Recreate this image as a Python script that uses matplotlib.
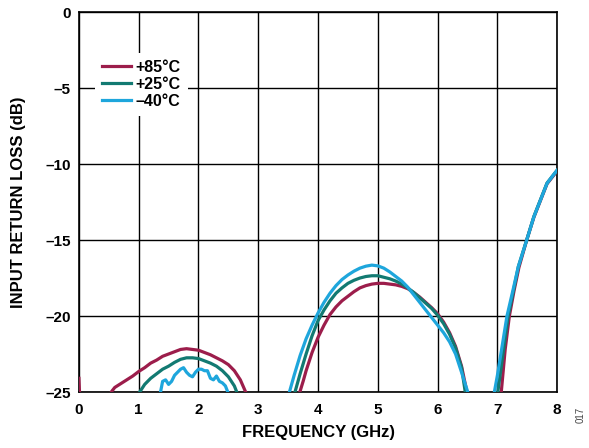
import numpy as np
import matplotlib.pyplot as plt

plt.rcParams['font.family'] = ['Liberation Sans', 'DejaVu Sans']
plt.rcParams['font.weight'] = 'bold'

nan = np.nan

# +85C
f_85 = [0.00, 0.02, nan, 0.50, 0.55, 0.6, 0.7, 0.8, 0.9, 1.0, 1.1, 1.2, 1.3, 1.4, 1.5, 1.6, 1.7, 1.8, 1.9,
        2.0, 2.1, 2.2, 2.3, 2.4, 2.5, 2.6, 2.7, 2.8, nan,
        3.68, 3.75, 3.8, 3.9, 4.0, 4.1, 4.2, 4.3, 4.4, 4.5, 4.6, 4.7, 4.8, 4.9, 5.0, 5.1, 5.2, 5.3, 5.4,
        5.5, 5.6, 5.7, 5.8, 5.9, 6.0, 6.1, 6.2, 6.3, 6.4, 6.5, nan,
        7.06, 7.13, 7.2, 7.28, 7.36, 7.49, 7.61, 7.72, 7.83, 7.92, 8.0]
rl_85 = [-24.1, -26, nan, -25.3, -24.95, -24.7, -24.45, -24.2, -23.95, -23.65, -23.4, -23.1, -22.9, -22.65,
         -22.5, -22.35, -22.2, -22.15, -22.2, -22.25, -22.4, -22.55, -22.75, -22.95, -23.2, -23.6, -24.2,
         -25.1, nan,
         -25.2, -24.3, -23.6, -22.4, -21.4, -20.6, -19.9, -19.4, -19.0, -18.7, -18.4, -18.15, -18.0, -17.9,
         -17.85, -17.85, -17.9, -17.95, -18.05, -18.2, -18.45, -18.75, -19.1, -19.45, -19.85, -20.4, -21.1,
         -22.0, -23.3, -25.2, nan,
         -25.2, -22.2, -20.0, -18.3, -16.8, -15.0, -13.5, -12.4, -11.3, -10.85, -10.45]

# +25C
f_25 = [1.0, 1.05, 1.1, 1.2, 1.3, 1.4, 1.5, 1.6, 1.7, 1.8, 1.9, 2.0, 2.1, 2.2, 2.3, 2.4, 2.5, 2.6, 2.65, nan,
        3.6, 3.7, 3.8, 3.9, 4.0, 4.1, 4.2, 4.3, 4.4, 4.5, 4.6, 4.7, 4.8, 4.9, 5.0, 5.1, 5.2, 5.3, 5.4,
        5.5, 5.6, 5.7, 5.8, 5.9, 6.0, 6.1, 6.2, 6.3, 6.4, 6.47, nan,
        7.0, 7.1, 7.18, 7.27, 7.35, 7.49, 7.61, 7.72, 7.83, 7.92, 8.0]
rl_25 = [-25.1, -24.8, -24.5, -24.1, -23.8, -23.5, -23.3, -23.05, -22.85, -22.75, -22.75, -22.8, -22.95,
         -23.1, -23.3, -23.6, -24.0, -24.6, -25.1, nan,
         -25.2, -23.8, -22.5, -21.3, -20.3, -19.6, -19.0, -18.5, -18.15, -17.85, -17.65, -17.5, -17.4,
         -17.35, -17.35, -17.45, -17.55, -17.7, -17.9, -18.15, -18.45, -18.8, -19.15, -19.5, -19.95,
         -20.5, -21.2, -22.1, -23.4, -25.2, nan,
         -25.2, -22.3, -20.0, -18.3, -16.75, -15.0, -13.45, -12.35, -11.25, -10.8, -10.4]

# -40C
f_40 = [1.36, 1.4, 1.45, 1.5, 1.55, 1.6, 1.65, 1.7, 1.75, 1.8, 1.85, 1.9, 1.95, 2.0, 2.05, 2.1, 2.15, 2.2,
        2.25, 2.3, 2.35, 2.4, 2.45, 2.5, nan,
        3.5, 3.6, 3.7, 3.8, 3.9, 4.0, 4.1, 4.2, 4.3, 4.4, 4.5, 4.6, 4.7, 4.8, 4.9, 5.0, 5.1, 5.2, 5.3,
        5.4, 5.5, 5.6, 5.7, 5.8, 5.9, 6.0, 6.1, 6.2, 6.3, 6.4, 6.52, nan,
        6.94, 7.0, 7.07, 7.16, 7.26, 7.35, 7.49, 7.61, 7.72, 7.83, 7.92, 8.0]
rl_40 = [-25.1, -24.3, -24.2, -24.5, -24.3, -23.9, -23.7, -23.5, -23.4, -23.7, -23.9, -24.0, -23.7, -23.5,
         -23.5, -23.6, -23.6, -24.1, -24.2, -23.95, -24.3, -24.4, -24.6, -25.1, nan,
         -25.3, -23.9, -22.6, -21.5, -20.6, -19.8, -19.1, -18.5, -18.0, -17.6, -17.3, -17.05, -16.85,
         -16.72, -16.65, -16.7, -16.85, -17.1, -17.4, -17.7, -18.1, -18.6, -19.1, -19.6, -20.1, -20.6,
         -21.1, -21.7, -22.5, -23.7, -25.2, nan,
         -25.2, -23.9, -22.2, -20.0, -18.3, -16.75, -15.0, -13.47, -12.37, -11.27, -10.8, -10.4]

x_ticks = [0, 1, 2, 3, 4, 5, 6, 7, 8]
y_ticks = [0, -5, -10, -15, -20, -25]
y_labels = ['0', '–5', '–10', '–15', '–20', '–25']

fig = plt.figure(figsize=(5.89, 4.48), dpi=100)
ax = fig.add_axes([0.134, 0.125, 0.812, 0.848])

ax.plot(f_85, rl_85, color='#9c1d4b', lw=2.3, label='+85°C', zorder=3)
ax.plot(f_25, rl_25, color='#127a72', lw=2.3, label='+25°C', zorder=4)
ax.plot(f_40, rl_40, color='#1ea6dc', lw=2.3, label='–40°C', zorder=5)

ax.set_xlim(0, 8)
ax.set_ylim(-25, 0)
ax.set_xticks(x_ticks)
ax.set_yticks(y_ticks)
ax.set_yticklabels(y_labels)
ax.grid(True, color='black', lw=1.0)
ax.tick_params(length=0, labelsize=11)
ax.tick_params(axis='x', pad=8)
ax.tick_params(axis='y', pad=6)
for s in ax.spines.values():
    s.set_linewidth(1.2)

ax.set_xlabel('FREQUENCY (GHz)', fontsize=12, fontweight='bold', labelpad=6)
ax.set_ylabel('INPUT RETURN LOSS (dB)', fontsize=12, fontweight='bold', labelpad=14)

leg = ax.legend(loc='upper left', bbox_to_anchor=(0.04, 0.885), frameon=True, fontsize=11.5,
                handlelength=1.8, handletextpad=0.3, labelspacing=0.12, borderpad=0.25,
                borderaxespad=0)
leg.get_frame().set_edgecolor('none')
leg.get_frame().set_facecolor('white')
leg.get_frame().set_alpha(1)
leg.get_frame().set_boxstyle('square', pad=0.2)
leg.set_zorder(10)

fig.text(0.985, 0.056, '017', rotation=90, fontsize=7, fontweight='normal', color='#444444',
         ha='center', va='bottom')

fig.savefig('out.png', dpi=100)
